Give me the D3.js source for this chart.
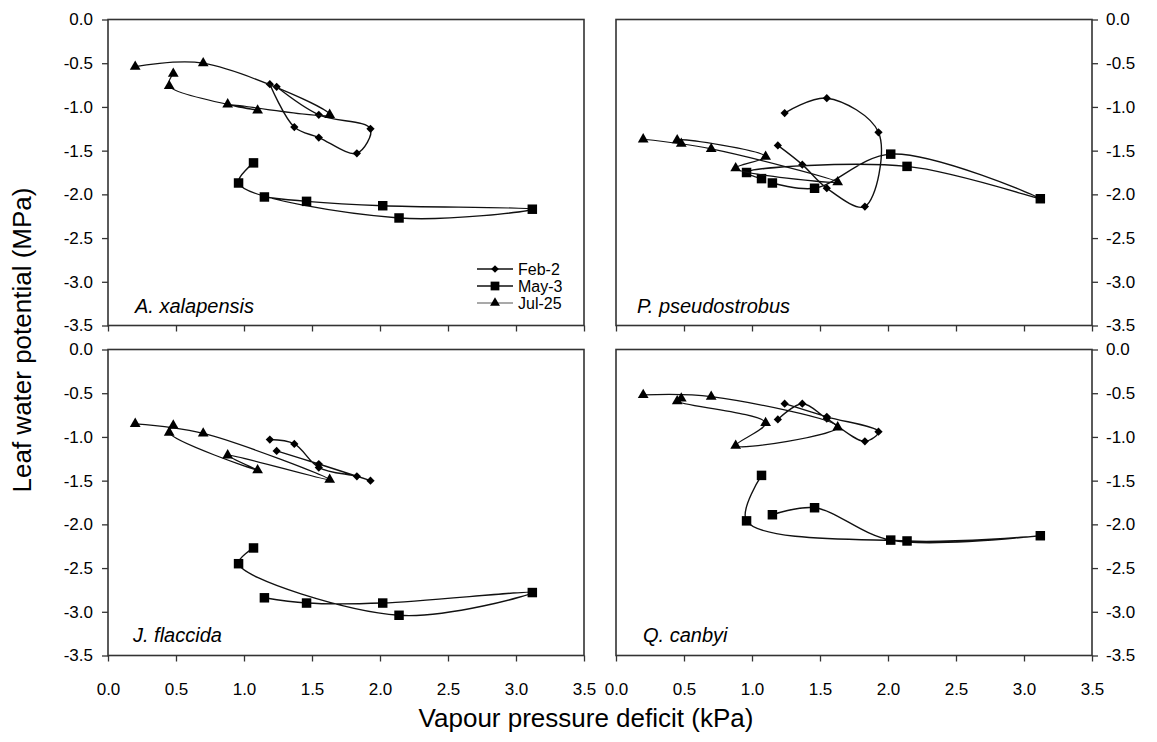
<!DOCTYPE html>
<html>
<head>
<meta charset="utf-8">
<script src="https://cdn.jsdelivr.net/npm/d3@7"></script>
<style>
  html, body { margin: 0; padding: 0; background: #fff; }
  svg { display: block; font-family: "Liberation Sans", Arial, sans-serif; }
</style>
</head>
<body>
<svg id="chart" width="1157" height="742"></svg>
<script>
// ---- Data ----
const dates = ["Feb-2", "May-3", "Jul-25"];
const species = ["A. xalapensis", "P. pseudostrobus", "J. flaccida", "Q. canbyi"];

// Vapour pressure deficit (kPa), in measurement order for each date
const vpdFeb = [1.24, 1.55, 1.93, 1.83, 1.55, 1.37, 1.19];
const vpdMay = [1.07, 0.96, 2.14, 3.12, 2.02, 1.46, 1.15];
const vpdJul = [0.48, 0.45, 1.10, 0.88, 1.63, 0.70, 0.20];

// Leaf water potential (MPa)
const lwpFebA = [-0.77, -1.09, -1.25, -1.53, -1.35, -1.23, -0.74];
const lwpMayA = [-1.64, -1.87, -2.27, -2.17, -2.13, -2.08, -2.03];
const lwpJulA = [-0.62, -0.76, -1.04, -0.97, -1.09, -0.50, -0.54];

const lwpFebP = [-1.07, -0.90, -1.29, -2.14, -1.93, -1.66, -1.44];
const lwpMayP = [-1.82, -1.75, -1.68, -2.05, -1.54, -1.93, -1.87];
const lwpJulP = [-1.42, -1.38, -1.57, -1.70, -1.86, -1.48, -1.37];

const lwpFebJ = [-1.16, -1.31, -1.50, -1.45, -1.35, -1.08, -1.03];
const lwpMayJ = [-2.27, -2.45, -3.04, -2.78, -2.90, -2.90, -2.84];
const lwpJulJ = [-0.87, -0.95, -1.38, -1.21, -1.49, -0.96, -0.85];

const lwpFebQ = [-0.62, -0.77, -0.94, -1.05, -0.79, -0.62, -0.80];
const lwpMayQ = [-1.44, -1.96, -2.19, -2.13, -2.18, -1.81, -1.89];
const lwpJulQ = [-0.56, -0.59, -0.84, -1.10, -0.89, -0.54, -0.52];

const xTicks = [0, 0.5, 1, 1.5, 2, 2.5, 3, 3.5];
const yTicks = [0, -0.5, -1, -1.5, -2, -2.5, -3, -3.5];

// ---- Layout ----
const svg = d3.select("#chart");
const colsX = [[108, 584], [616, 1092]];
const rowsY = [[19.5, 325.5], [349.5, 655.5]];
const fmt = d => d.toFixed(1);

const panels = [
  { name: species[0], col: 0, row: 0, lwp: [lwpFebA, lwpMayA, lwpJulA], lx: 135, ly: 313, legend: true },
  { name: species[1], col: 1, row: 0, lwp: [lwpFebP, lwpMayP, lwpJulP], lx: 637, ly: 313 },
  { name: species[2], col: 0, row: 1, lwp: [lwpFebJ, lwpMayJ, lwpJulJ], lx: 133, ly: 642 },
  { name: species[3], col: 1, row: 1, lwp: [lwpFebQ, lwpMayQ, lwpJulQ], lx: 643, ly: 642 }
];
const vpds = [vpdFeb, vpdMay, vpdJul];

const symbols = [
  { type: d3.symbolSquare, size: 34, rotate: 45 },   // diamond
  { type: d3.symbolSquare, size: 90, rotate: 0 },    // square
  { type: d3.symbolTriangle, size: 50, rotate: 0 }   // triangle
];
const lineWidths = [1.4, 1.4, 1.2];

const lineGen = (x, y) => d3.line()
  .x(d => x(d[0])).y(d => y(d[1]))
  .curve(d3.curveCatmullRom.alpha(0.5));

panels.forEach(p => {
  const [x0, x1] = colsX[p.col];
  const [y0, y1] = rowsY[p.row];
  const x = d3.scaleLinear().domain([0, 3.5]).range([x0, x1]);
  const y = d3.scaleLinear().domain([-3.5, 0]).range([y1, y0]);
  const g = svg.append("g");

  // y axis
  const yAxis = p.col === 0
    ? d3.axisLeft(y).tickValues(yTicks).tickFormat(fmt).tickSize(6).tickSizeOuter(0).tickPadding(9)
    : d3.axisRight(y).tickValues(yTicks).tickFormat(fmt).tickSize(6).tickSizeOuter(0).tickPadding(8);
  const ya = g.append("g")
    .attr("transform", `translate(${p.col === 0 ? x0 : x1},0)`)
    .call(yAxis);
  // x axis
  const xAxis = d3.axisBottom(x).tickValues(xTicks).tickSize(6).tickSizeOuter(0).tickPadding(21)
    .tickFormat(p.row === 1 ? fmt : () => "");
  const xa = g.append("g")
    .attr("transform", `translate(0,${y1})`)
    .call(xAxis);
  [ya, xa].forEach(a => {
    a.select(".domain").remove();
    a.selectAll(".tick line").attr("stroke", "#333").attr("stroke-width", 1.3);
    a.selectAll(".tick text").attr("fill", "#000").style("font-size", "17px")
      .style("font-family", "'Liberation Sans', Arial, sans-serif");
  });

  // frame
  g.append("rect")
    .attr("x", x0).attr("y", y0)
    .attr("width", x1 - x0).attr("height", y1 - y0)
    .attr("fill", "none").attr("stroke", "#333").attr("stroke-width", 1.6);

  // series
  p.lwp.forEach((vals, i) => {
    const pts = vpds[i].map((v, k) => [v, vals[k]]);
    g.append("path")
      .attr("d", lineGen(x, y)(pts))
      .attr("fill", "none").attr("stroke", "#111")
      .attr("stroke-width", lineWidths[i]);
    const s = symbols[i];
    g.selectAll(null).data(pts).join("path")
      .attr("d", d3.symbol().type(s.type).size(s.size))
      .attr("transform", d => `translate(${x(d[0])},${y(d[1])}) rotate(${s.rotate})`)
      .attr("fill", "#000");
  });

  // species label
  g.append("text")
    .attr("x", p.lx).attr("y", p.ly)
    .style("font-style", "italic").style("font-size", "20px")
    .attr("fill", "#000")
    .text(p.name);

  // legend
  if (p.legend) {
    const rowsL = [269, 286, 303];
    dates.forEach((dname, i) => {
      const ly = rowsL[i];
      g.append("line")
        .attr("x1", 477).attr("x2", 513).attr("y1", ly).attr("y2", ly)
        .attr("stroke", i === 2 ? "#555" : "#111")
        .attr("stroke-width", i === 2 ? 1.1 : 1.5);
      const s = symbols[i];
      g.append("path")
        .attr("d", d3.symbol().type(s.type).size(s.size * 0.85)())
        .attr("transform", `translate(495,${ly}) rotate(${s.rotate})`)
        .attr("fill", "#000");
      g.append("text")
        .attr("x", 518).attr("y", ly + 5.5)
        .style("font-size", "16px").attr("fill", "#000")
        .text(dname);
    });
  }
});

// axis titles
svg.append("text")
  .attr("x", 586).attr("y", 727)
  .attr("text-anchor", "middle")
  .style("font-size", "26px").attr("fill", "#000")
  .text("Vapour pressure deficit (kPa)");

svg.append("text")
  .attr("transform", "translate(31,340) rotate(-90)")
  .attr("text-anchor", "middle")
  .style("font-size", "26px").attr("fill", "#000")
  .text("Leaf water potential (MPa)");
</script>
</body>
</html>
